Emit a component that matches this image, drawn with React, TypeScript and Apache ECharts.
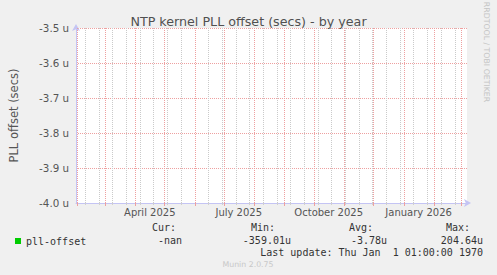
import React, { useEffect, useRef } from 'react';
import * as echarts from 'echarts';

const chartTitle = 'NTP kernel PLL offset (secs) - by year';
const yAxisName = 'PLL offset (secs)';
const rangeStart = '2025-01-30T12:00:00Z';
const rangeEnd = '2026-03-06T12:00:00Z';
const yMin = -4.0;
const yMax = -3.5;
const yStep = 0.1;

const monthLines = [
  '2025-02-01', '2025-03-01', '2025-04-01', '2025-05-01', '2025-06-01', '2025-07-01',
  '2025-08-01', '2025-09-01', '2025-10-01', '2025-11-01', '2025-12-01', '2026-01-01',
  '2026-02-01', '2026-03-01',
];
const minorLines = [
  '2025-02-09', '2025-02-23', '2025-03-09', '2025-03-23', '2025-04-06', '2025-04-20',
  '2025-05-04', '2025-05-18', '2025-06-01', '2025-06-15', '2025-06-29', '2025-07-13',
  '2025-07-27', '2025-08-10', '2025-08-24', '2025-09-07', '2025-09-21', '2025-10-05',
  '2025-10-19', '2025-11-02', '2025-11-16', '2025-11-30', '2025-12-14', '2025-12-28',
  '2026-01-11', '2026-01-25', '2026-02-08', '2026-02-22',
];
const labelDates = ['2025-04-16T00:00:00Z', '2025-07-16T00:00:00Z', '2025-10-16T00:00:00Z', '2026-01-16T00:00:00Z'];
const labelTexts = ['April 2025', 'July 2025', 'October 2025', 'January 2026'];

const seriesName = 'pll-offset';
const seriesTimes: string[] = [];
const seriesValues: (number | null)[] = [];

const legendHeaders = ['Cur:', 'Min:', 'Avg:', 'Max:'];
const legendValues = ['-nan', '-359.01u', '-3.78u', '204.64u'];
const lastUpdate = 'Last update: Thu Jan  1 01:00:00 1970';
const footer = 'Munin 2.0.75';
const sideText = 'RRDTOOL / TOBI OETIKER';

const ts = (d: string) => Date.parse(d.length === 10 ? d + 'T00:00:00Z' : d);

export default function App() {
  const ref = useRef<HTMLDivElement>(null);
  useEffect(() => {
    document.body.style.margin = '0';
    const chart = echarts.init(ref.current!, null, { renderer: 'svg' });
    const labelTs = labelDates.map(ts);
    const mono = '10px "DejaVu Sans Mono"';
    const headerRight = [176, 275, 373, 470];
    const valueRight = [182, 291, 387, 483];
    const graphics: any[] = [];
    legendHeaders.forEach((h, i) => {
      graphics.push({ type: 'text', x: headerRight[i], y: 227, style: { text: h, font: mono, fill: '#333', align: 'right', verticalAlign: 'middle' } });
    });
    legendValues.forEach((v, i) => {
      graphics.push({ type: 'text', x: valueRight[i], y: 240, style: { text: v, font: mono, fill: '#333', align: 'right', verticalAlign: 'middle' } });
    });
    graphics.push({ type: 'text', x: 483, y: 252, style: { text: lastUpdate, font: mono, fill: '#333', align: 'right', verticalAlign: 'middle' } });
    graphics.push({ type: 'text', x: 248, y: 264, style: { text: footer, font: '7.8px "DejaVu Sans"', fill: '#c8c8c8', align: 'center', verticalAlign: 'middle' } });
    graphics.push({ type: 'text', x: 486, y: 52, rotation: -Math.PI / 2, style: { text: sideText, font: '7.8px "DejaVu Sans"', fill: '#c4c4c4', align: 'center', verticalAlign: 'middle' } });

    const gridMark = (dates: string[], color: string) => ({
      silent: true,
      symbol: ['none', 'none'],
      label: { show: false },
      emphasis: { disabled: true },
      lineStyle: { color, type: [1, 1], width: 1, opacity: 1 },
      data: dates.map((d) => ({ xAxis: ts(d) })),
    });

    chart.setOption({
      animation: false,
      backgroundColor: '#f0f0f0',
      textStyle: { fontFamily: 'DejaVu Sans' },
      title: {
        text: chartTitle,
        left: 'center',
        top: 10,
        textStyle: { fontSize: 12.7, fontWeight: 'normal', color: '#505050', fontFamily: 'DejaVu Sans' },
      },
      legend: {
        left: 10,
        top: 231,
        icon: 'rect',
        itemWidth: 6,
        itemHeight: 6,
        textStyle: { fontFamily: 'DejaVu Sans Mono', fontSize: 10, color: '#333' },
        data: [seriesName],
      },
      grid: {
        left: 67, top: 28, width: 400, height: 175,
        show: true, backgroundColor: '#ffffff', borderWidth: 0,
      },
      xAxis: [
        {
          type: 'value',
          position: 'bottom',
          min: ts(rangeStart),
          max: ts(rangeEnd),
          axisLine: { show: false },
          axisTick: { show: true, customValues: minorLines.map(ts), length: 2, lineStyle: { color: '#d0d0d0' } },
          axisLabel: { show: false },
          splitLine: { show: false },
        },
        {
          type: 'value',
          position: 'bottom',
          min: ts(rangeStart),
          max: ts(rangeEnd),
          axisLine: { show: true, lineStyle: { color: '#c4c4f4', width: 1 }, symbol: ['none', 'arrow'], symbolSize: [6, 7], symbolOffset: [0, 4] },
          axisTick: { show: true, customValues: monthLines.map(ts), length: 3, lineStyle: { color: '#eea0a0' } },
          axisLabel: {
            show: true,
            customValues: labelTs,
            margin: 4,
            fontSize: 10,
            color: '#555',
            fontFamily: 'DejaVu Sans',
            formatter: (v: number) => {
              const i = labelTs.findIndex((t) => Math.abs(t - v) < 1000);
              return i >= 0 ? labelTexts[i] : '';
            },
          },
          splitLine: { show: false },
        },
      ],
      yAxis: {
        type: 'value',
        min: yMin,
        max: yMax,
        interval: yStep,
        name: yAxisName,
        nameLocation: 'middle',
        nameGap: 56,
        nameTextStyle: { fontSize: 11.5, color: '#555', fontFamily: 'DejaVu Sans' },
        axisLine: { show: true, lineStyle: { color: '#c4c4f4', width: 1 }, symbol: ['none', 'arrow'], symbolSize: [6, 7], symbolOffset: [0, 4] },
        axisTick: { show: false },
        axisLabel: {
          margin: 7,
          fontSize: 10.3,
          color: '#555',
          fontFamily: 'DejaVu Sans',
          formatter: (v: number) => v.toFixed(1) + ' u',
        },
        splitLine: { show: true, lineStyle: { color: '#eea0a0', type: [1, 1], width: 1 } },
      },
      series: [
        {
          type: 'line',
          name: 'minor-grid',
          xAxisIndex: 0,
          data: [],
          silent: true,
          markLine: gridMark(minorLines, '#cacaca'),
        },
        {
          type: 'line',
          name: 'major-grid',
          xAxisIndex: 1,
          data: [],
          silent: true,
          markLine: gridMark(monthLines, '#eea0a0'),
        },
        {
          type: 'line',
          name: seriesName,
          xAxisIndex: 1,
          color: '#00cc00',
          showSymbol: false,
          lineStyle: { color: '#00cc00', width: 1 },
          data: seriesTimes.map((t, i) => [ts(t), seriesValues[i]]),
        },
      ],
      graphic: graphics,
    });
    return () => chart.dispose();
  }, []);
  return <div ref={ref} style={{ width: 497, height: 275 }} />;
}
